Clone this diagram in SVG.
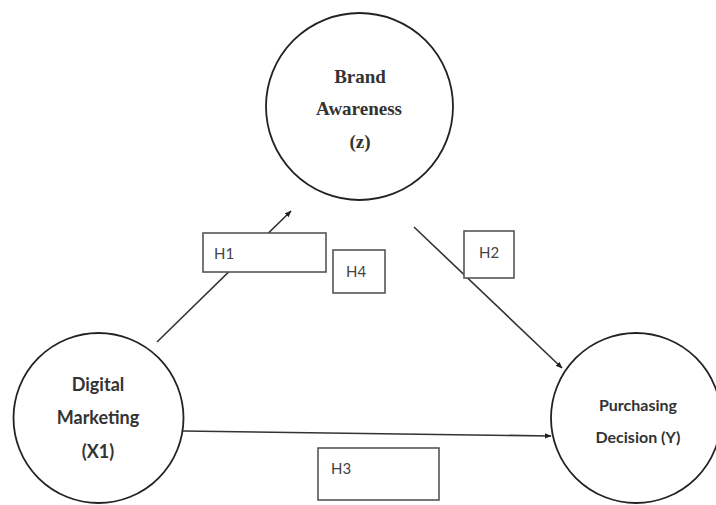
<svg xmlns="http://www.w3.org/2000/svg" width="716" height="505" viewBox="0 0 716 505">
<defs>
<marker id="arr" viewBox="0 0 10 10" refX="9" refY="5" markerWidth="7" markerHeight="7" markerUnits="userSpaceOnUse" orient="auto">
<path d="M0,1 L10,5 L0,9 z" fill="#222"/>
</marker>
<style>
.node{fill:#fff;stroke:#222;stroke-width:1.8}
.box{fill:#fff;stroke:#555;stroke-width:1.6}
.conn{stroke:#333;stroke-width:1.6;fill:none;marker-end:url(#arr)}
.serif{font-family:"Liberation Serif","Times New Roman",serif;font-weight:bold;font-size:19px;fill:#333;text-anchor:middle}
.sans{font-family:Lato,"Open Sans","Liberation Sans",sans-serif;font-weight:bold;font-size:18px;fill:#333;text-anchor:middle}
.lbl{font-family:Lato,"Open Sans","Liberation Sans",sans-serif;font-size:15px;fill:#444}
</style>
</defs>
<rect width="716" height="505" fill="#fff"/>
<g id="connectors">
<line class="conn" x1="157" y1="342" x2="291" y2="211"/>
<line class="conn" x1="414" y1="227" x2="562" y2="368"/>
<line class="conn" x1="183" y1="431" x2="551" y2="436"/>
</g>
<g id="brand-awareness">
<circle class="node" cx="359.5" cy="106.5" r="93.5"/>
<text class="serif" x="360" y="83">Brand</text>
<text class="serif" x="359" y="115">Awareness</text>
<text class="serif" x="360" y="148">(z)</text>
</g>
<g id="digital-marketing">
<circle class="node" cx="98.5" cy="418" r="85"/>
<text class="sans" x="98" y="391">Digital</text>
<text class="sans" x="98" y="424">Marketing</text>
<text class="sans" x="98" y="458">(X1)</text>
</g>
<g id="purchasing-decision">
<circle class="node" cx="636" cy="418" r="85"/>
<text class="sans" x="638" y="411" style="font-size:16px">Purchasing</text>
<text class="sans" x="638" y="443" style="font-size:16px">Decision (Y)</text>
</g>
<g id="h1">
<rect class="box" x="203" y="233" width="123" height="39"/>
<text class="lbl" x="214" y="259">H1</text>
</g>
<g id="h4">
<rect class="box" x="333" y="250" width="52" height="43"/>
<text class="lbl" x="346" y="277">H4</text>
</g>
<g id="h2">
<rect class="box" x="464" y="231" width="50" height="47"/>
<text class="lbl" x="479" y="258">H2</text>
</g>
<g id="h3">
<rect class="box" x="318" y="448" width="121" height="52"/>
<text class="lbl" x="331" y="474">H3</text>
</g>
</svg>
